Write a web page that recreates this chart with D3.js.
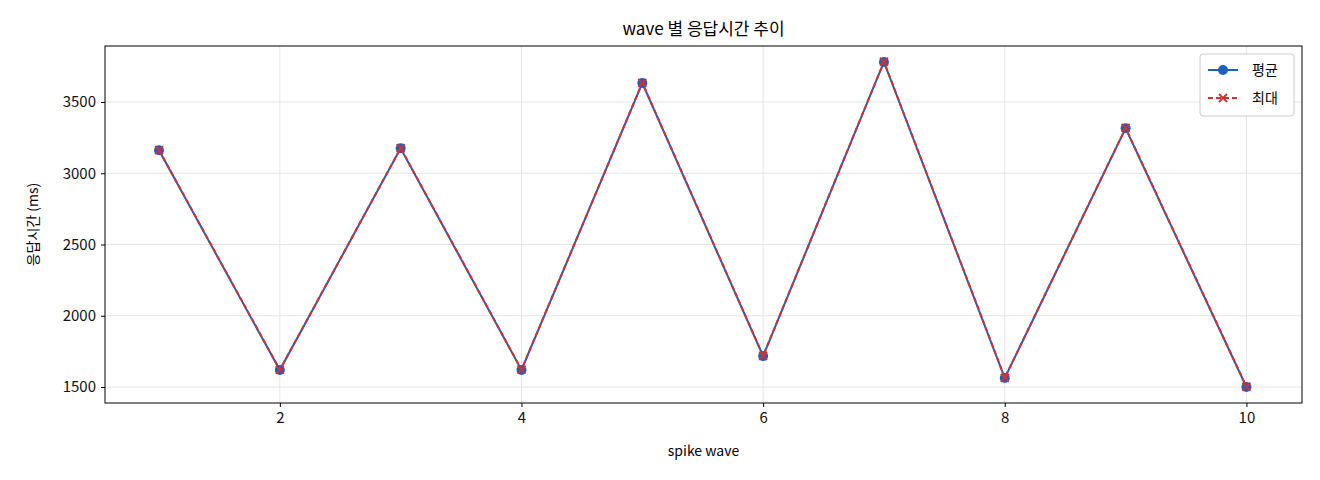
<!DOCTYPE html>
<html><head><meta charset="utf-8">
<script src="https://cdn.jsdelivr.net/npm/d3@7"></script>
<style>body{margin:0;background:#fff}text{font-family:"Noto Sans CJK KR","Noto Sans",sans-serif}</style>
</head><body><svg id="c" width="1320" height="480"></svg>
<script>
const waves=[1,2,3,4,5,6,7,8,9,10];
const avgVals=[3161,1619,3175,1620,3633,1717,3781,1563,3316,1500];
const maxVals=[3163,1621,3177,1622,3635,1719,3783,1565,3318,1502];
const xTicks=[2,4,6,8,10];
const yTicks=[1500,2000,2500,3000,3500];
const svg=d3.select("#c");
const L=105,R=1302,T=46,B=403;
const x=d3.scaleLinear().domain([0.553,10.46]).range([L,R]);
const y=d3.scaleLinear().domain([1388,3893]).range([B,T]);
const g=svg.append("g");
g.selectAll(".gx").data(xTicks).enter().append("line").attr("x1",d=>x(d)).attr("x2",d=>x(d)).attr("y1",T).attr("y2",B).attr("stroke","#e5e5e5");
g.selectAll(".gy").data(yTicks).enter().append("line").attr("y1",d=>y(d)).attr("y2",d=>y(d)).attr("x1",L).attr("x2",R).attr("stroke","#e5e5e5");
const xa=svg.append("g").attr("transform",`translate(0,${B})`).call(d3.axisBottom(x).tickValues(xTicks).tickFormat(d3.format("d")).tickSize(4).tickPadding(5));
const ya=svg.append("g").attr("transform",`translate(${L},0)`).call(d3.axisLeft(y).tickValues(yTicks).tickFormat(d3.format("d")).tickSize(4).tickPadding(5));
[xa,ya].forEach(a=>{a.select(".domain").remove();a.selectAll("line").attr("stroke","#000");a.selectAll("text").attr("font-size",15).attr("fill","#111").style("font-family","'Noto Sans CJK KR'");});
svg.append("rect").attr("x",L).attr("y",T).attr("width",R-L).attr("height",B-T).attr("fill","none").attr("stroke","#000");
const line=d3.line().x((d,i)=>x(waves[i])).y(d=>y(d));
svg.append("path").datum(avgVals).attr("d",line).attr("fill","none").attr("stroke","#1f5fbf").attr("stroke-width",2);
svg.selectAll(".pa").data(avgVals).enter().append("circle").attr("cx",(d,i)=>x(waves[i])).attr("cy",d=>y(d)).attr("r",5).attr("fill","#1f5fbf");
svg.append("path").datum(maxVals).attr("d",line).attr("fill","none").attr("stroke","#d62f2f").attr("stroke-width",2).attr("stroke-dasharray","5,3");
const cross=(s,cx,cy)=>s.append("path").attr("d",`M${cx-4},${cy-4}L${cx+4},${cy+4}M${cx-4},${cy+4}L${cx+4},${cy-4}`).attr("stroke","#d62f2f").attr("stroke-width",1.8);
maxVals.forEach((d,i)=>cross(svg,x(waves[i]),y(d)));
svg.append("text").attr("x",(L+R)/2).attr("y",35).attr("text-anchor","middle").attr("font-size",17).text("wave 별 응답시간 추이");
svg.append("text").attr("x",(L+R)/2).attr("y",456).attr("text-anchor","middle").attr("font-size",14).text("spike wave");
svg.append("text").attr("transform",`translate(38,${(T+B)/2}) rotate(-90)`).attr("text-anchor","middle").attr("font-size",14).text("응답시간 (ms)");
const lg=svg.append("g").attr("transform","translate(1200,54)");
lg.append("rect").attr("width",94).attr("height",62).attr("rx",3).attr("fill","#fff").attr("stroke","#ccc");
lg.append("line").attr("x1",8).attr("x2",38).attr("y1",16).attr("y2",16).attr("stroke","#1f5fbf").attr("stroke-width",2);
lg.append("circle").attr("cx",23).attr("cy",16).attr("r",5).attr("fill","#1f5fbf");
lg.append("text").attr("x",52).attr("y",21).attr("font-size",14).text("평균");
lg.append("line").attr("x1",8).attr("x2",38).attr("y1",44).attr("y2",44).attr("stroke","#d62f2f").attr("stroke-width",2).attr("stroke-dasharray","5,3");
cross(lg,23,44);
lg.append("text").attr("x",52).attr("y",49).attr("font-size",14).text("최대");
</script></body></html>
